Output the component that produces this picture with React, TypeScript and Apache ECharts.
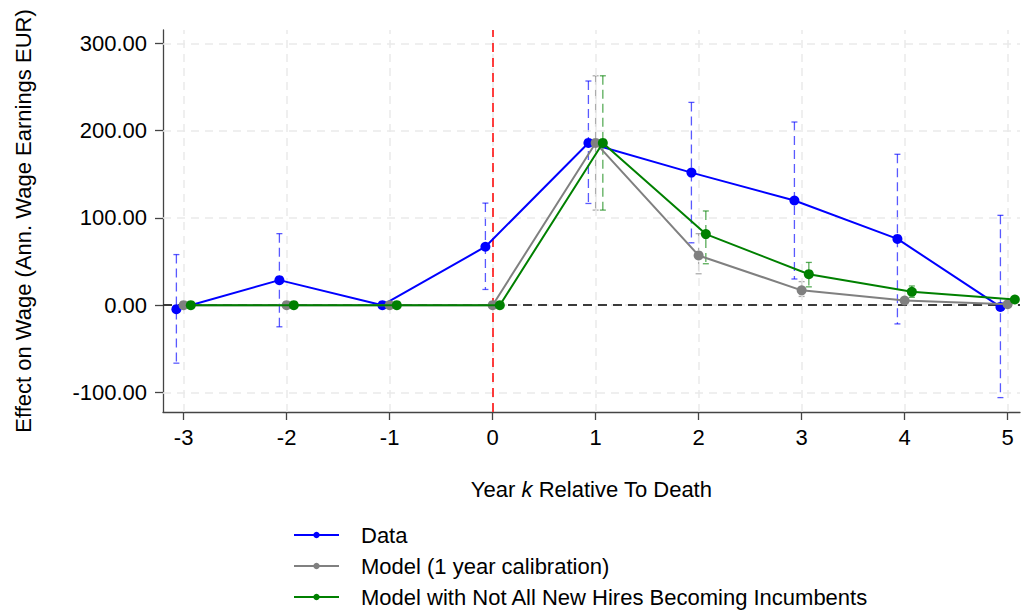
import React, { useEffect, useRef } from "react";
import * as echarts from "echarts";

const years = [-3, -2, -1, 0, 1, 2, 3, 4, 5];
const xTicks = [-3, -2, -1, 0, 1, 2, 3, 4, 5];
const yTicks = [-100, 0, 100, 200, 300];

const dataValues = [-4.6, 28.7, 0, 67, 186, 152, 120, 76, -2];
const dataLow = [-66.5, -24.8, null, 18, 116.6, 71.5, 30, -21.5, -106];
const dataHigh = [58, 82, null, 117, 257, 232.5, 210, 173, 103];

const modelValues = [0, 0, 0, 0, 186, 57, 17, 5.3, 1];
const modelLow = [null, null, null, null, 109, 36, 10, 3, null];
const modelHigh = [null, null, null, null, 263, 82, 27, 8, null];

const altValues = [0, 0, 0, 0, 186, 81.5, 35.5, 15.3, 6.5];
const altLow = [null, null, null, null, 109, 47.5, 21, 9, null];
const altHigh = [null, null, null, null, 263, 108, 49, 22, null];

const NAMES = [
  "Data",
  "Model (1 year calibration)",
  "Model with Not All New Hires Becoming Incumbents",
];
const COLORS = ["#0000ff", "#808080", "#008000"];
const DODGE = [-0.07, 0, 0.07];
const FONT = "'Liberation Sans', Helvetica, Arial, sans-serif";
const FS = 22;

function ciSeries(vals: (number | null)[], lo: (number | null)[], hi: (number | null)[], idx: number) {
  const data: any[] = [];
  years.forEach((k, i) => {
    if (lo[i] != null && hi[i] != null) data.push([k + DODGE[idx], lo[i], hi[i]]);
  });
  const color = COLORS[idx];
  return {
    type: "custom",
    name: NAMES[idx] + " CI",
    z: 3,
    silent: true,
    data,
    renderItem: (params: any, api: any) => {
      const x = api.value(0);
      const top = api.coord([x, api.value(2)]);
      const bot = api.coord([x, api.value(1)]);
      const cap = 3;
      const s = { stroke: color, lineWidth: 1.3, opacity: 0.65 };
      return {
        type: "group",
        children: [
          { type: "line", shape: { x1: top[0], y1: top[1], x2: bot[0], y2: bot[1] }, style: { ...s, lineDash: [9, 5] } },
          { type: "line", shape: { x1: top[0] - cap, y1: top[1], x2: top[0] + cap, y2: top[1] }, style: s },
          { type: "line", shape: { x1: bot[0] - cap, y1: bot[1], x2: bot[0] + cap, y2: bot[1] }, style: s },
        ],
      };
    },
  };
}

function lineSeries(vals: number[], idx: number) {
  return {
    type: "line",
    name: NAMES[idx],
    z: 5 + idx,
    data: years.map((k, i) => [k + DODGE[idx], vals[i]]),
    symbol: "circle",
    symbolSize: 10,
    itemStyle: { color: COLORS[idx] },
    lineStyle: { color: COLORS[idx], width: 2 },
  };
}

function refLine(name: string, item: any, color: string, z: number) {
  return {
    type: "line",
    name,
    data: [],
    z,
    silent: true,
    markLine: {
      silent: true,
      symbol: ["none", "none"],
      label: { show: false },
      lineStyle: { color, width: 1.5, type: [9, 6] },
      data: [item],
    },
  };
}

export default function App() {
  const ref = useRef<HTMLDivElement>(null);
  useEffect(() => {
    const chart = echarts.init(ref.current!, undefined, { renderer: "svg" });
    const gridStyle = { color: "#eaeaea", width: 1.5, type: [8, 6] as any };
    const axisColor = "#444";
    chart.setOption({
      animation: false,
      textStyle: { fontFamily: FONT },
      grid: { left: 163, top: 30, right: 3, bottom: 199, containLabel: false },
      xAxis: {
        type: "value",
        min: -3.2,
        max: 5.12,
        splitLine: { show: false },
        axisLine: { show: true, onZero: false, lineStyle: { color: axisColor, width: 1.3 } },
        axisTick: { show: true, customValues: xTicks, length: 8, lineStyle: { color: axisColor, width: 1.3 } },
        axisLabel: {
          customValues: xTicks,
          color: "#000",
          fontSize: FS,
          fontFamily: FONT,
          margin: 14,
        },
        name: "Year {i|k} Relative To Death",
        nameLocation: "middle",
        nameGap: 66,
        nameTextStyle: {
          color: "#000",
          fontSize: FS,
          fontFamily: FONT,
          rich: { i: { fontStyle: "italic", fontSize: FS, fontFamily: FONT, color: "#000" } },
        },
      },
      yAxis: {
        type: "value",
        min: -122.5,
        max: 315.5,
        splitLine: { show: false },
        axisLine: { show: true, onZero: false, lineStyle: { color: axisColor, width: 1.3 } },
        axisTick: { show: true, customValues: yTicks, length: 8, lineStyle: { color: axisColor, width: 1.3 } },
        axisLabel: {
          customValues: yTicks,
          color: "#000",
          fontSize: FS,
          fontFamily: FONT,
          margin: 16,
          formatter: (v: number) => v.toFixed(2),
        },
        name: "Effect on Wage (Ann. Wage Earnings EUR)",
        nameLocation: "middle",
        nameGap: 129,
        nameTextStyle: { color: "#000", fontSize: FS, fontFamily: FONT },
      },
      legend: {
        data: NAMES,
        orient: "vertical",
        left: 293,
        top: 524,
        padding: 0,
        itemWidth: 45,
        itemHeight: 8,
        itemGap: 9,
        textStyle: { color: "#000", fontSize: FS, fontFamily: FONT, lineHeight: 22, padding: [0, 0, 0, 17] },
      },
      series: [
        {
          type: "line",
          name: "grid",
          data: [],
          z: 1,
          silent: true,
          markLine: {
            silent: true,
            symbol: ["none", "none"],
            label: { show: false },
            lineStyle: gridStyle,
            data: [
              ...xTicks.map((v) => ({ xAxis: v })),
              ...yTicks.map((v) => ({ yAxis: v })),
            ],
          },
        },
        refLine("zero", { yAxis: 0 }, "#000000", 2),
        refLine("death", { xAxis: 0 }, "#ff0000", 2),
        ciSeries(dataValues, dataLow, dataHigh, 0),
        ciSeries(modelValues, modelLow, modelHigh, 1),
        ciSeries(altValues, altLow, altHigh, 2),
        lineSeries(dataValues, 0),
        lineSeries(modelValues, 1),
        lineSeries(altValues, 2),
      ],
    });
    return () => chart.dispose();
  }, []);
  return (
    <div
      ref={ref}
      style={{ position: "fixed", left: 0, top: 0, width: 1023, height: 611, background: "#fff" }}
    />
  );
}
